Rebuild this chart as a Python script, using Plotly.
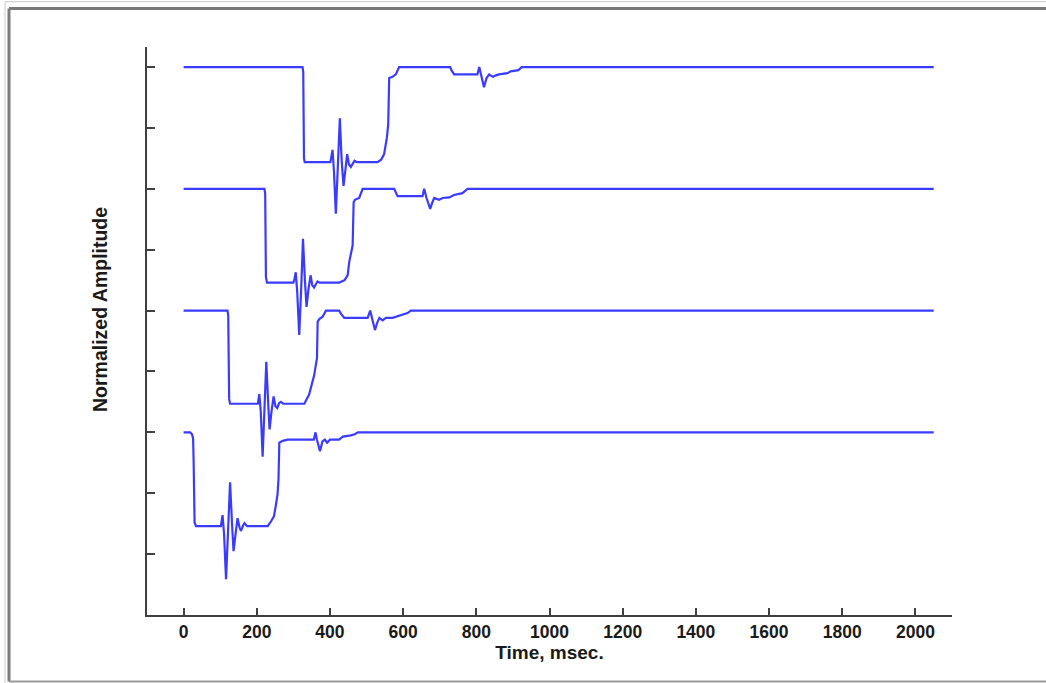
import plotly.graph_objects as go

# ---- data ----
x_ticks = [0, 200, 400, 600, 800, 1000, 1200, 1400, 1600, 1800, 2000]
y_ticks = [1, 2, 3, 4, 5, 6, 7, 8, 9]

t1 = [0, 325, 327, 327.5, 328, 329, 331,
      401, 403, 407, 411, 416, 421.5, 427, 432, 437, 442, 447, 452, 457, 462, 467, 473,
      530, 540, 548, 555.6, 559.2, 561.9, 571, 580, 589,
      728.5, 732, 739.4, 803, 808, 814, 821, 828, 835, 840, 846, 852, 862, 885, 894, 915, 924, 2050]
a1 = [9.0, 9.0, 8.92, 8.1, 7.9, 7.5, 7.44,
      7.44, 7.50, 7.64, 7.28, 6.59, 7.36, 8.16, 7.47, 7.05, 7.30, 7.57, 7.40, 7.36, 7.41, 7.46, 7.44,
      7.44, 7.48, 7.57, 7.84, 8.06, 8.82, 8.84, 8.88, 9.0,
      9.0, 8.95, 8.88, 8.88, 9.0, 8.86, 8.67, 8.82, 8.88, 8.86, 8.84, 8.86, 8.88, 8.90, 8.93, 8.95, 9.0, 9.0]

t2 = [0, 221, 223, 223.5, 224, 225, 228,
      300, 303, 306.5, 310.6, 316, 321.5, 326.3, 331.5, 336, 341, 347, 351.5, 356.5, 361, 366, 372,
      425.4, 440, 448.3, 452.7, 457.3, 462, 464.7, 468.3, 480, 489.3,
      575.6, 580, 584.8, 653, 657.5, 664, 674, 680, 685, 698, 708, 726, 739, 762, 776, 2050]
a2 = [7.0, 7.0, 6.92, 6.0, 5.75, 5.55, 5.46,
      5.46, 5.52, 5.63, 5.30, 4.60, 5.38, 6.18, 5.50, 5.06, 5.34, 5.58, 5.42, 5.38, 5.43, 5.48, 5.46,
      5.46, 5.50, 5.58, 5.80, 5.91, 6.07, 6.78, 6.82, 6.85, 7.0,
      7.0, 6.93, 6.88, 6.88, 7.0, 6.85, 6.67, 6.78, 6.85, 6.82, 6.85, 6.86, 6.90, 6.93, 7.0, 7.0]

t3 = [0, 120, 122, 122.5, 123, 124.5, 127,
      203, 207, 211, 216, 221, 226, 231, 235, 240, 246, 251, 256, 261, 266, 272,
      330, 343, 353, 357, 364.5, 366.4, 370.8, 380, 389,
      425, 430, 439, 503, 510, 516, 523, 529, 535, 544, 553, 571, 594, 612, 621, 2050]
a3 = [5.0, 5.0, 4.92, 4.0, 3.75, 3.55, 3.47,
      3.47, 3.63, 3.33, 2.60, 3.40, 4.16, 3.50, 3.05, 3.33, 3.59, 3.43, 3.40, 3.48, 3.50, 3.47,
      3.47, 3.62, 3.86, 3.94, 4.22, 4.82, 4.86, 4.90, 5.0,
      5.0, 4.95, 4.88, 4.88, 5.0, 4.85, 4.68, 4.80, 4.88, 4.84, 4.88, 4.88, 4.93, 4.96, 5.0, 5.0]

t4 = [0, 18, 23, 26, 27.5, 28.5, 30, 34,
      102, 106.5, 110.6, 116, 121.5, 127, 132.4, 136.5, 142, 147.4, 152.9, 157, 162.5, 166.6, 173.4,
      230, 239, 247, 252.6, 256.7, 259.4, 261.6, 270.9, 284.5,
      356, 360.4, 364.5, 372.7, 379.5, 386, 392, 400, 424.6, 435.5, 457, 468, 476.5, 2050]
a4 = [3.0, 3.0, 2.97, 2.9, 2.5, 1.7, 1.52, 1.46,
      1.46, 1.64, 1.33, 0.59, 1.41, 2.18, 1.49, 1.05, 1.33, 1.59, 1.44, 1.38, 1.47, 1.51, 1.46,
      1.46, 1.54, 1.62, 1.82, 1.98, 2.23, 2.83, 2.86, 2.88,
      2.88, 3.0, 2.88, 2.69, 2.85, 2.88, 2.83, 2.88, 2.88, 2.93, 2.95, 2.97, 3.0, 3.0]

series = [(t1, a1), (t2, a2), (t3, a3), (t4, a4)]

# ---- figure ----
LINE = "#3b3bff"
AX = "#404040"
TXT = "#1a1a1a"
FONT = "Arial, Liberation Sans, sans-serif"

fig = go.Figure()
for t, a in series:
    fig.add_trace(go.Scatter(x=t, y=a, mode="lines",
                             line=dict(color=LINE, width=2.2), hoverinfo="skip"))

fig.update_layout(
    width=1046, height=683,
    margin=dict(l=147, r=94, t=47, b=68, pad=0),
    paper_bgcolor="white", plot_bgcolor="white",
    showlegend=False,
    font=dict(family=FONT, color=TXT),
)

fig.update_xaxes(
    range=[-100, 2100], tickvals=x_ticks, ticktext=[str(v) for v in x_ticks],
    showline=True, linecolor=AX, linewidth=2,
    ticks="inside", ticklen=7, tickwidth=1.5, tickcolor=AX,
    showgrid=False, zeroline=False,
    tickfont=dict(family=FONT, size=17.5, color=TXT, weight="bold"),
    title=dict(text="Time, msec.", font=dict(family=FONT, size=19, color=TXT, weight="bold"),
               standoff=2),
)
fig.update_yaxes(
    range=[0, 9.33], tickvals=y_ticks, showticklabels=False,
    showline=True, linecolor=AX, linewidth=2,
    ticks="inside", ticklen=8, tickwidth=1.5, tickcolor=AX,
    showgrid=False, zeroline=False,
)

fig.add_annotation(
    text="Normalized Amplitude", textangle=-90,
    xref="paper", yref="paper", x=(100 - 147) / 805, y=(615 - 310) / 568,
    showarrow=False, xanchor="center", yanchor="middle",
    font=dict(family=FONT, size=19.5, color=TXT, weight="bold"),
)

# picture frame
def px(xp):
    return (xp - 147) / 805

def py(yp):
    return (615 - yp) / 568

frame = [
    (px(5), py(1.7), px(1060), py(1.7), "#c8c8c8", 1),
    (px(5), py(1.7), px(5), py(690), "#c8c8c8", 1),
    (px(9), py(8.5), px(1060), py(8.5), "#7a7a7a", 3),
    (px(9), py(8.5), px(9), py(681.5), "#7a7a7a", 3),
    (px(9), py(681.5), px(1060), py(681.5), "#9a9a9a", 2),
]
for x0, y0, x1, y1, c, w in frame:
    fig.add_shape(type="line", xref="paper", yref="paper", x0=x0, y0=y0, x1=x1, y1=y1,
                  line=dict(color=c, width=w), layer="above")

fig.write_html("out.html")
